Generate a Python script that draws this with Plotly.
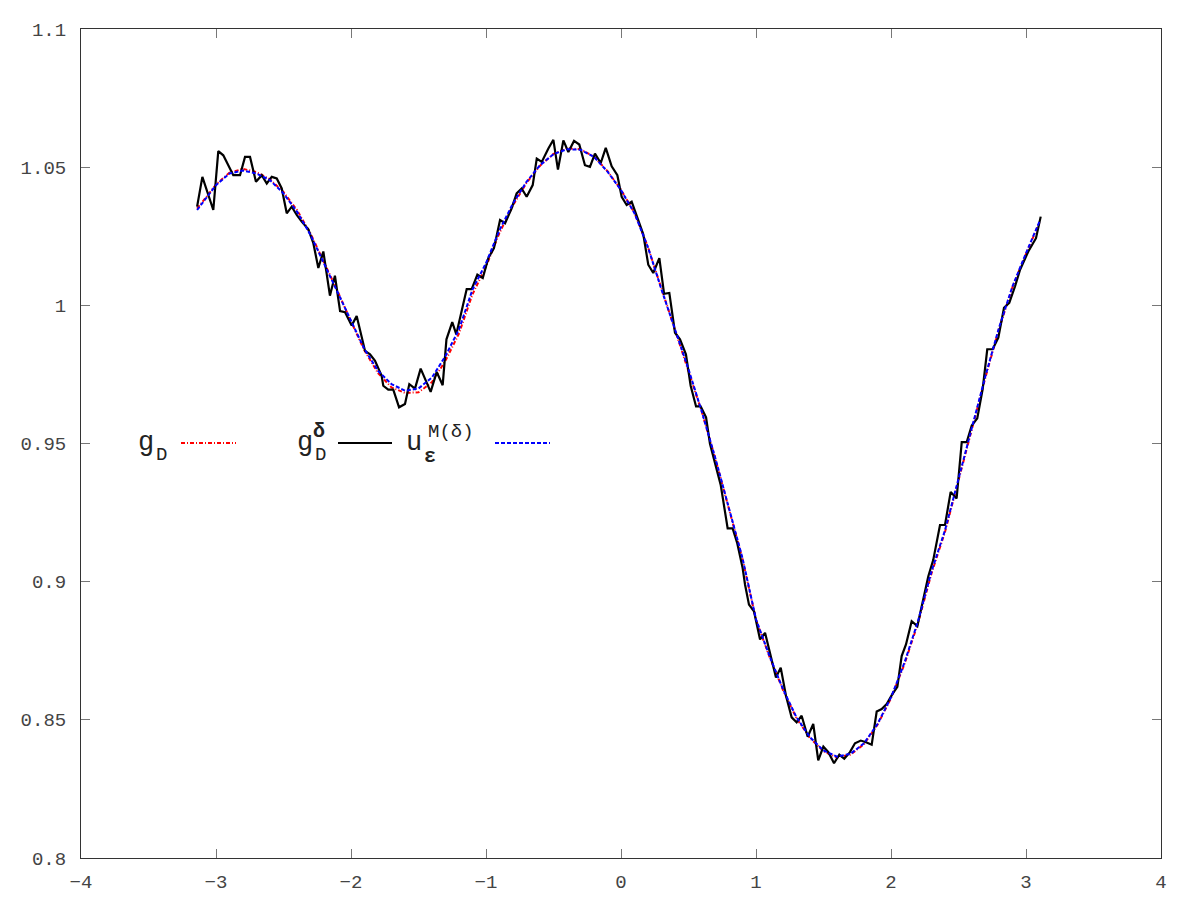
import plotly.graph_objects as go

# noisy data g_D^delta
x_noisy = [-3.140, -3.101, -3.020, -2.983, -2.946, -2.872, -2.822, -2.785, -2.748, -2.704,
           -2.661, -2.624, -2.587, -2.550, -2.513, -2.476, -2.439, -2.402, -2.365, -2.316,
           -2.279, -2.242, -2.205, -2.156, -2.119, -2.081, -2.044, -1.995, -1.958, -1.896,
           -1.859, -1.822, -1.773, -1.761, -1.724, -1.687, -1.644, -1.600, -1.568, -1.526,
           -1.484, -1.452, -1.410, -1.365, -1.321, -1.293, -1.250, -1.220, -1.168, -1.143,
           -1.106, -1.064, -1.024, -0.983, -0.941, -0.896, -0.859, -0.810, -0.773, -0.736,
           -0.699, -0.654, -0.624, -0.587, -0.539, -0.501, -0.467, -0.427, -0.390, -0.348,
           -0.309, -0.267, -0.230, -0.193, -0.150, -0.113, -0.069, -0.027, 0.005, 0.042,
           0.079, 0.128, 0.165, 0.202, 0.239, 0.284, 0.319, 0.358, 0.400, 0.437,
           0.481, 0.516, 0.556, 0.590, 0.630, 0.659, 0.696, 0.739, 0.790, 0.827,
           0.861, 0.901, 0.919, 0.948, 0.985, 1.030, 1.067, 1.104, 1.148, 1.183,
           1.222, 1.264, 1.301, 1.338, 1.383, 1.424, 1.461, 1.499, 1.536, 1.578,
           1.617, 1.654, 1.696, 1.733, 1.776, 1.815, 1.857, 1.894, 1.931, 1.968,
           2.010, 2.047, 2.079, 2.111, 2.153, 2.195, 2.235, 2.276, 2.313, 2.363,
           2.400, 2.442, 2.486, 2.524, 2.561, 2.598, 2.639, 2.679, 2.713, 2.753,
           2.795, 2.837, 2.876, 2.919, 2.956, 3.017, 3.074, 3.109]
y_noisy = [1.0357, 1.0465, 1.0345, 1.0558, 1.0543, 1.0471, 1.0471, 1.0537, 1.0537, 1.0447,
           1.0471, 1.0441, 1.0465, 1.0459, 1.0423, 1.0333, 1.0357, 1.0327, 1.0303, 1.0275,
           1.0225, 1.0135, 1.0195, 1.0035, 1.0107, 0.9979, 0.9975, 0.9927, 0.9961, 0.9835,
           0.9823, 0.9799, 0.9745, 0.9709, 0.9695, 0.9695, 0.9631, 0.9643, 0.9715, 0.9699,
           0.9771, 0.9733, 0.9687, 0.9759, 0.9711, 0.9877, 0.9939, 0.9895, 1.0003, 1.0059,
           1.0059, 1.0111, 1.0099, 1.0171, 1.0207, 1.0309, 1.0297, 1.0351, 1.0405, 1.0423,
           1.0393, 1.0435, 1.0531, 1.0519, 1.0567, 1.0599, 1.0491, 1.0597, 1.0555, 1.0595,
           1.0582, 1.0507, 1.0501, 1.0549, 1.0515, 1.0570, 1.0503, 1.0471, 1.0393, 1.0363,
           1.0375, 1.0303, 1.0257, 1.0147, 1.0117, 1.0171, 1.0042, 1.0045, 0.9901, 0.9877,
           0.9823, 0.9709, 0.9634, 0.9634, 0.9595, 0.9499, 0.9433, 0.9349, 0.9193, 0.9193,
           0.9139, 0.9049, 0.8989, 0.8917, 0.8893, 0.8791, 0.8815, 0.8737, 0.8653, 0.8689,
           0.8587, 0.8509, 0.8491, 0.8515, 0.8439, 0.8485, 0.8353, 0.8403, 0.8383, 0.8343,
           0.8374, 0.8359, 0.8383, 0.8415, 0.8425, 0.8419, 0.8410, 0.8530, 0.8539, 0.8557,
           0.8593, 0.8619, 0.8731, 0.8773, 0.8857, 0.8839, 0.8923, 0.9019, 0.9079, 0.9205,
           0.9205, 0.9325, 0.9301, 0.9505, 0.9505, 0.9565, 0.9591, 0.9697, 0.9841, 0.9841,
           0.9883, 0.9991, 1.0009, 1.0069, 1.0129, 1.0195, 1.0243, 1.0321]

# smooth curves g_D and u_eps^{M(delta)}
x_smooth = [-3.14, -3.0, -2.9, -2.8, -2.7, -2.6, -2.5, -2.4, -2.3, -2.2,
            -2.1, -2.0, -1.9, -1.8, -1.7, -1.6, -1.5, -1.4, -1.3, -1.2,
            -1.1, -1.0, -0.9, -0.8, -0.7, -0.6, -0.5, -0.4, -0.3, -0.2,
            -0.1, 0.0, 0.1, 0.2, 0.3, 0.4, 0.5, 0.6, 0.7, 0.8,
            0.9, 1.0, 1.1, 1.2, 1.3, 1.4, 1.5, 1.6, 1.7, 1.8,
            1.9, 2.0, 2.1, 2.2, 2.3, 2.4, 2.5, 2.6, 2.7, 2.8,
            2.9, 3.0, 3.1]
y_exact = [1.0350, 1.0437, 1.0480, 1.0494, 1.0482, 1.0456, 1.0410, 1.0345, 1.0260, 1.0158,
           1.0052, 0.9942, 0.9836, 0.9755, 0.9703, 0.9683, 0.9685, 0.9722, 0.9800, 0.9898,
           1.0040, 1.0140, 1.0262, 1.0362, 1.0443, 1.0505, 1.0548, 1.0568, 1.0565, 1.0538,
           1.0486, 1.0418, 1.0335, 1.0210, 1.0060, 0.9915, 0.9768, 0.9612, 0.9443, 0.9262,
           0.9082, 0.8862, 0.8728, 0.8608, 0.8506, 0.8434, 0.8386, 0.8364, 0.8374, 0.8412,
           0.8482, 0.8578, 0.8702, 0.8850, 0.9030, 0.9180, 0.9366, 0.9554, 0.9740, 0.9915,
           1.0066, 1.0186, 1.0300]
y_approx = [1.0345, 1.0435, 1.0477, 1.0488, 1.0477, 1.0453, 1.0405, 1.0339, 1.0255, 1.0153,
            1.0051, 0.9943, 0.9841, 0.9763, 0.9715, 0.9691, 0.9699, 0.9739, 0.9817, 0.9913,
            1.0057, 1.0153, 1.0272, 1.0369, 1.0447, 1.0507, 1.0547, 1.0565, 1.0563, 1.0537,
            1.0484, 1.0417, 1.0333, 1.0210, 1.0057, 0.9913, 0.9769, 0.9613, 0.9445, 0.9265,
            0.9085, 0.8864, 0.8731, 0.8611, 0.8509, 0.8437, 0.8389, 0.8367, 0.8377, 0.8415,
            0.8485, 0.8581, 0.8707, 0.8857, 0.9037, 0.9186, 0.9372, 0.9559, 0.9745, 0.9919,
            1.0069, 1.0189, 1.0303]

x_ticks = [-4, -3, -2, -1, 0, 1, 2, 3, 4]
y_ticks = [0.8, 0.85, 0.9, 0.95, 1.0, 1.05, 1.1]
y_tick_labels = ["0.8", "0.85", "0.9", "0.95", "1", "1.05", "1.1"]

RED_DASH = "4px,2px,1px,2px"
BLUE_DASH = "4px,2px"
FONT = "Liberation Mono"

fig = go.Figure()
fig.add_trace(go.Scatter(x=x_smooth, y=y_exact, mode="lines", showlegend=False,
                         line=dict(color="red", width=2, dash=RED_DASH)))
fig.add_trace(go.Scatter(x=x_noisy, y=y_noisy, mode="lines", showlegend=False,
                         line=dict(color="black", width=2.2)))
fig.add_trace(go.Scatter(x=x_smooth, y=y_approx, mode="lines", showlegend=False,
                         line=dict(color="blue", width=2, dash=BLUE_DASH)))

# gnuplot style key: text then sample line (pixel positions of the reference)
ly = (858 - 441) / 833
shapes = []
for (a, b), col, dash in [((181, 236), "red", RED_DASH), ((338, 392), "black", "solid"),
                          ((495, 550), "blue", BLUE_DASH)]:
    shapes.append(dict(type="line", xref="paper", yref="paper",
                       x0=(a - 81) / 1080, x1=(b - 81) / 1080, y0=ly, y1=ly,
                       line=dict(color=col, width=2, dash=dash)))


def ann(px, py, text, size, bold=False):
    if bold:
        text = "<b>" + text + "</b>"
    return dict(xref="paper", yref="paper", x=(px - 81) / 1080, y=(858 - py) / 833,
                text=text, showarrow=False, xanchor="center", yanchor="middle",
                font=dict(family=FONT, size=size, color="#222"))


annotations = [
    ann(146, 441, "g", 27), ann(161, 453, "D", 19),
    ann(305, 441, "g", 27), ann(320, 453, "D", 19), ann(319, 429, "δ", 20, True),
    ann(414, 441, "u", 27), ann(430, 455, "ε", 20, True), ann(451, 430, "M(δ)", 19),
]

# page body adds 8px offset, so margins are shifted to keep plot box at 81..1161 / 25..858
fig.update_layout(
    width=1200, height=900,
    margin=dict(l=73, r=47, t=17, b=50),
    plot_bgcolor="white", paper_bgcolor="white",
    font=dict(family=FONT, size=19, color="#444"),
    shapes=shapes, annotations=annotations,
)
fig.update_xaxes(range=[-4, 4], tickvals=x_ticks, ticktext=[str(v).replace("-", "−") for v in x_ticks],
                 showgrid=False, zeroline=False, showline=True, linecolor="#333", linewidth=1,
                 mirror="ticks", ticks="inside", ticklen=9, tickcolor="#777",
                 ticklabelstandoff=6)
fig.update_yaxes(range=[0.8, 1.1], tickvals=y_ticks, ticktext=y_tick_labels,
                 showgrid=False, zeroline=False, showline=True, linecolor="#333", linewidth=1,
                 mirror="ticks", ticks="inside", ticklen=9, tickcolor="#777",
                 ticklabelstandoff=10)

fig.write_html("out.html")
